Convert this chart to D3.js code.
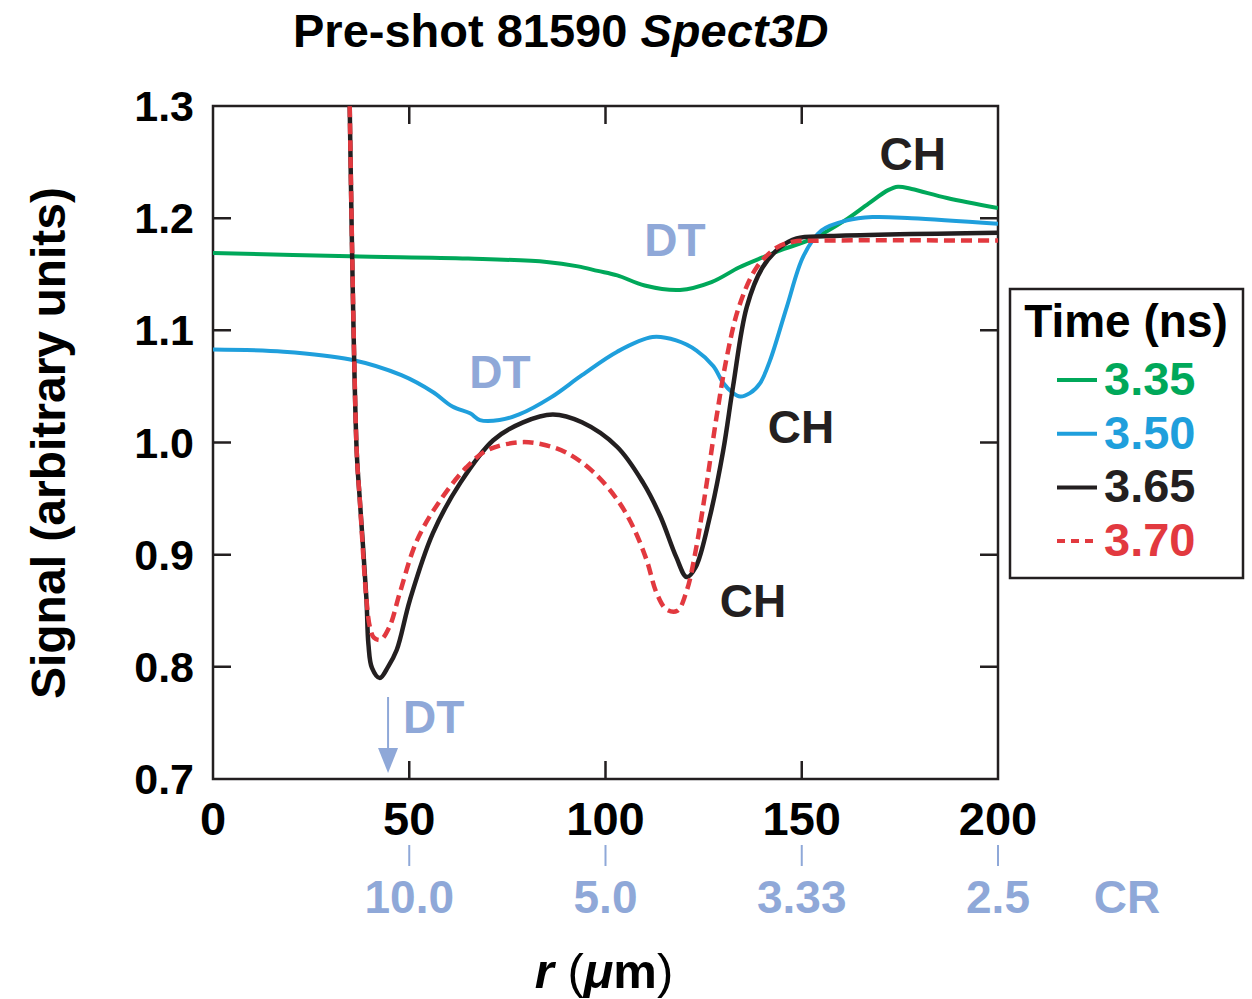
<!DOCTYPE html>
<html>
<head>
<meta charset="utf-8">
<script src="https://cdn.jsdelivr.net/npm/d3@7"></script>
<style>
  body { margin: 0; background: #fff; }
  text { font-family: "Liberation Sans", Arial, Helvetica, sans-serif; font-weight: bold; }
</style>
</head>
<body>
<svg width="1252" height="999"></svg>
<script>
// series values (r in um, signal in arbitrary units)
var r335 = [0, 35, 65, 85, 93, 98, 103, 110, 119, 127, 134, 140, 145, 153, 161, 167, 172, 174.5, 178, 187, 200];
var s335 = [1.169, 1.166, 1.164, 1.161, 1.157, 1.153, 1.149, 1.140, 1.136, 1.143, 1.156, 1.165, 1.172, 1.182, 1.198, 1.213, 1.225, 1.228, 1.226, 1.218, 1.209];

var r350 = [0, 18, 35, 48, 56, 61, 65.5, 68, 73, 78, 86, 94, 103, 112, 118, 123.2, 127.5, 130, 132.5, 134.3, 136.8, 139.4, 141.9, 146.2, 150.4, 155, 161.5, 168, 178, 200];
var s350 = [1.083, 1.081, 1.074, 1.060, 1.045, 1.032, 1.026, 1.020, 1.020, 1.025, 1.040, 1.060, 1.081, 1.094, 1.091, 1.082, 1.068, 1.053, 1.044, 1.041, 1.044, 1.053, 1.073, 1.121, 1.166, 1.189, 1.198, 1.201, 1.200, 1.195];

var r365 = [34.7, 36.6, 37.4, 39.1, 39.6, 40.5, 42.5, 44.6, 46.8, 50.2, 56, 63, 71.4, 79, 86.6, 94, 103, 109.6, 114, 118, 120.7, 123, 126.6, 130, 132.5, 136, 140, 144.5, 148.7, 157, 200];
var s365 = [1.33, 0.993, 0.949, 0.860, 0.820, 0.799, 0.790, 0.800, 0.815, 0.860, 0.919, 0.964, 1.002, 1.018, 1.025, 1.018, 0.996, 0.964, 0.934, 0.898, 0.880, 0.889, 0.934, 0.993, 1.050, 1.121, 1.156, 1.174, 1.182, 1.184, 1.187];

var r370 = [34.7, 36.6, 37.4, 39.1, 40, 41, 42.7, 45, 47.6, 52, 58, 64.6, 69.8, 77.4, 83, 90, 96.8, 103, 107, 110.5, 113, 115.6, 118.3, 120.7, 123, 125.8, 128.3, 130.9, 134, 138.5, 143.7, 147.8, 155, 200];
var s370 = [1.33, 0.993, 0.949, 0.860, 0.835, 0.826, 0.824, 0.836, 0.866, 0.913, 0.949, 0.978, 0.993, 1.000, 0.999, 0.991, 0.974, 0.949, 0.925, 0.895, 0.866, 0.851, 0.850, 0.868, 0.904, 0.964, 1.023, 1.076, 1.121, 1.156, 1.174, 1.179, 1.180, 1.180];

var times = ["3.35", "3.50", "3.65", "3.70"];
var colors = ["#00a85a", "#1f9fdc", "#231f20", "#e2393f"];
var xTicks = [0, 50, 100, 150, 200];
var yTicks = [0.7, 0.8, 0.9, 1.0, 1.1, 1.2, 1.3];
var crTicks = [50, 100, 150, 200];
var crLabels = ["10.0", "5.0", "3.33", "2.5"];

// annotations: text, r, signal, colour
var notes = [
  ["DT", 117.7, 1.166, "#8fa8d8"],
  ["DT", 73.1, 1.049, "#8fa8d8"],
  ["CH", 178.3, 1.243, "#231f20"],
  ["CH", 149.8, 1.000, "#231f20"],
  ["CH", 137.6, 0.844, "#231f20"]
];

var series = [
  {r: r335, s: s335}, {r: r350, s: s350}, {r: r365, s: s365}, {r: r370, s: s370}
];

var svg = d3.select("svg");
var pL = 213, pR = 998, pT = 106, pB = 779;

var x = d3.scaleLinear().domain([0, 200]).range([pL, pR]);
var y = d3.scaleLinear().domain([0.7, 1.3]).range([pB, pT]);

var ink = "#231f20", pale = "#8fa8d8";

svg.append("defs").append("clipPath").attr("id", "plotclip")
  .append("rect").attr("x", pL).attr("y", pT).attr("width", pR - pL).attr("height", pB - pT);

// title
var title = svg.append("text").attr("x", 293).attr("y", 47).attr("font-size", 47).attr("fill", "#000");
title.append("tspan").text("Pre-shot 81590 ");
title.append("tspan").attr("font-style", "italic").text("Spect3D");

// frame and inward ticks
svg.append("rect").attr("x", pL).attr("y", pT).attr("width", pR - pL).attr("height", pB - pT)
  .attr("fill", "none").attr("stroke", ink).attr("stroke-width", 2.5);

var tl = 18;
svg.selectAll(".xt").data(xTicks.slice(1, -1)).enter().append("path")
  .attr("d", function(d) { return "M" + x(d) + "," + pB + "v" + (-tl) + "M" + x(d) + "," + pT + "v" + tl; })
  .attr("stroke", ink).attr("stroke-width", 2.5);
svg.selectAll(".yt").data(yTicks.slice(1, -1)).enter().append("path")
  .attr("d", function(d) { return "M" + pL + "," + y(d) + "h" + tl + "M" + pR + "," + y(d) + "h" + (-tl); })
  .attr("stroke", ink).attr("stroke-width", 2.5);

svg.selectAll(".xl").data(xTicks).enter().append("text")
  .attr("x", function(d) { return x(d); }).attr("y", 835)
  .attr("text-anchor", "middle").attr("font-size", 47).attr("fill", "#000")
  .text(function(d) { return d; });

svg.selectAll(".yl").data(yTicks).enter().append("text")
  .attr("x", 194).attr("y", function(d) { return y(d) + 15; })
  .attr("text-anchor", "end").attr("font-size", 43).attr("fill", "#000")
  .text(function(d) { return d.toFixed(1); });

// CR secondary scale
svg.selectAll(".ct").data(crTicks).enter().append("line")
  .attr("x1", function(d) { return x(d); }).attr("x2", function(d) { return x(d); })
  .attr("y1", 845).attr("y2", 866).attr("stroke", pale).attr("stroke-width", 2);
svg.selectAll(".cl").data(crLabels).enter().append("text")
  .attr("x", function(d, i) { return x(crTicks[i]); }).attr("y", 913)
  .attr("text-anchor", "middle").attr("font-size", 46).attr("fill", pale)
  .text(function(d) { return d; });
svg.append("text").attr("x", 1127).attr("y", 913).attr("text-anchor", "middle")
  .attr("font-size", 46).attr("fill", pale).text("CR");

// axis titles
var xt = svg.append("text").attr("x", 604).attr("y", 988).attr("text-anchor", "middle")
  .attr("font-size", 49).attr("fill", "#000");
xt.append("tspan").attr("font-style", "italic").text("r");
xt.append("tspan").attr("font-weight", "normal").text(" (");
xt.append("tspan").attr("font-style", "italic").text("\u03bc");
xt.append("tspan").text("m");
xt.append("tspan").attr("font-weight", "normal").text(")");

svg.append("text").attr("transform", "translate(65,443) rotate(-90)")
  .attr("text-anchor", "middle").attr("font-size", 48).attr("fill", "#000")
  .text("Signal (arbitrary units)");

// curves
var line = d3.line()
  .x(function(d) { return x(d[0]); })
  .y(function(d) { return y(d[1]); })
  .curve(d3.curveCatmullRom.alpha(0.5));

var g = svg.append("g").attr("clip-path", "url(#plotclip)");
series.forEach(function(sr, i) {
  var pts = sr.r.map(function(v, k) { return [v, sr.s[k]]; });
  g.append("path").datum(pts).attr("d", line)
    .attr("fill", "none").attr("stroke", colors[i])
    .attr("stroke-width", i >= 2 ? 4.5 : 4)
    .attr("stroke-dasharray", i === 3 ? "11,6" : null)
    .attr("stroke-linejoin", "round");
});

// annotations
svg.selectAll(".note").data(notes).enter().append("text")
  .attr("x", function(d) { return x(d[1]); }).attr("y", function(d) { return y(d[2]); })
  .attr("text-anchor", "middle").attr("font-size", 46)
  .attr("fill", function(d) { return d[3]; })
  .text(function(d) { return d[0]; });

// DT arrow near inner minimum
var ax = x(44.6);
svg.append("line").attr("x1", ax).attr("x2", ax).attr("y1", 697).attr("y2", 752)
  .attr("stroke", pale).attr("stroke-width", 2);
svg.append("path").attr("d", "M" + (ax - 10) + ",748L" + (ax + 10) + ",748L" + ax + ",773Z").attr("fill", pale);
svg.append("text").attr("x", 403).attr("y", 733).attr("font-size", 46).attr("fill", pale).text("DT");

// legend
svg.append("rect").attr("x", 1010).attr("y", 289).attr("width", 233).attr("height", 289)
  .attr("fill", "#fff").attr("stroke", ink).attr("stroke-width", 2.5);
svg.append("text").attr("x", 1126).attr("y", 337).attr("text-anchor", "middle")
  .attr("font-size", 46).attr("fill", "#000").text("Time (ns)");
var lg = svg.selectAll(".lg").data(times).enter().append("g")
  .attr("transform", function(d, i) { return "translate(0," + (380 + i * 53.7) + ")"; });
lg.append("line").attr("x1", 1057).attr("x2", 1097).attr("y1", 0).attr("y2", 0)
  .attr("stroke", function(d, i) { return colors[i]; }).attr("stroke-width", 4)
  .attr("stroke-dasharray", function(d, i) { return i === 3 ? "8,6" : null; });
lg.append("text").attr("x", 1104).attr("y", 15).attr("font-size", 47)
  .attr("fill", function(d, i) { return colors[i]; })
  .text(function(d) { return d; });
</script>
</body>
</html>
